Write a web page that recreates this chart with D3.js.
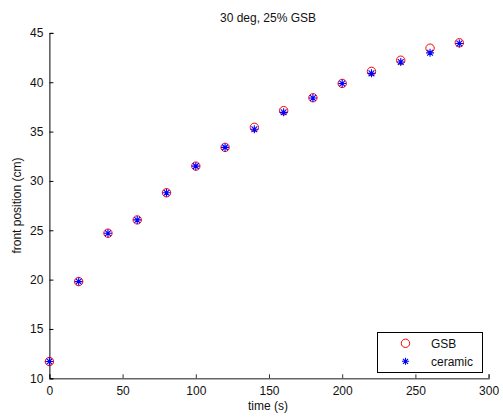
<!DOCTYPE html>
<html>
<head>
<meta charset="utf-8">
<script src="https://cdn.jsdelivr.net/npm/d3@7/dist/d3.min.js"></script>
<style>
html,body{margin:0;padding:0;background:#fff;}
svg text{font-family:"Liberation Sans",Arial,Helvetica,sans-serif;}
</style>
</head>
<body>
<script>
const times = [0,20,40,60,80,100,120,140,160,180,200,220,240,260,280];
const gsb = [11.7,19.8,24.7,26.05,28.8,31.5,33.4,35.43,37.12,38.43,39.88,41.1,42.23,43.45,44.0];
const ceramic = [11.7,19.8,24.7,26.05,28.8,31.5,33.4,35.23,36.95,38.4,39.88,40.9,42.05,42.98,43.92];
const xTicks = [0,50,100,150,200,250,300];
const yTicks = [10,15,20,25,30,35,40,45];
const title = "30 deg, 25% GSB";
const xLabel = "time (s)";
const yLabel = "front position (cm)";
const seriesNames = ["GSB","ceramic"];

const W = 503, H = 417;
const m = {left:49.4, right:W-488.6, top:32.9, bottom:H-378.3};
const svg = d3.select("body").append("svg").attr("width",W).attr("height",H);
const x = d3.scaleLinear().domain([0,300]).range([m.left, W-m.right]);
const y = d3.scaleLinear().domain([10,45]).range([H-m.bottom, m.top]);

// axes
const gx = svg.append("g").attr("transform",`translate(0,${y(10)})`)
  .call(d3.axisBottom(x).tickValues(xTicks).tickSize(-4).tickPadding(8).tickFormat(d3.format("d")));
gx.select(".domain").attr("stroke","#666").attr("stroke-width",1.4);
gx.selectAll(".tick line").attr("stroke","#333");
gx.selectAll("text").attr("font-size",12).attr("fill","#111");

const gy = svg.append("g").attr("transform",`translate(${x(0)},0)`)
  .call(d3.axisLeft(y).tickValues(yTicks).tickSize(-4).tickPadding(6).tickFormat(d3.format("d")));
gy.select(".domain").attr("stroke","#000").attr("stroke-width",1);
gy.selectAll(".tick line").attr("stroke","#000");
gy.selectAll("text").attr("font-size",12).attr("fill","#111");

// labels
svg.append("text").attr("x",268).attr("y",22).attr("text-anchor","middle").attr("font-size",12).attr("fill","#111").text(title);
svg.append("text").attr("x",268).attr("y",410).attr("text-anchor","middle").attr("font-size",12).attr("fill","#111").text(xLabel);
svg.append("text").attr("transform",`translate(21,${(y(10)+y(45))/2}) rotate(-90)`).attr("text-anchor","middle").attr("font-size",12).attr("fill","#111").text(yLabel);

function star(cx,cy,s){
  const d = s*0.72;
  return `M${cx-s},${cy}L${cx+s},${cy}M${cx},${cy-s}L${cx},${cy+s}`+
         `M${cx-d},${cy-d}L${cx+d},${cy+d}M${cx-d},${cy+d}L${cx+d},${cy-d}`;
}

// GSB circles
svg.append("g").selectAll("circle").data(times.map((t,i)=>[t,gsb[i]])).join("circle")
  .attr("cx",d=>x(d[0])).attr("cy",d=>y(d[1])).attr("r",4.2)
  .attr("fill","none").attr("stroke","#ff0000").attr("stroke-width",1);

// ceramic stars
svg.append("g").selectAll("path").data(times.map((t,i)=>[t,ceramic[i]])).join("path")
  .attr("d",d=>star(x(d[0]),y(d[1]),4))
  .attr("fill","none").attr("stroke","#0000ff").attr("stroke-width",1.1);

// legend
const lg = svg.append("g");
lg.append("rect").attr("x",377.5).attr("y",332.5).attr("width",105).attr("height",40)
  .attr("fill","#fff").attr("stroke","#000").attr("stroke-width",1);
lg.append("circle").attr("cx",405.5).attr("cy",343.3).attr("r",4.2).attr("fill","none").attr("stroke","#ff0000").attr("stroke-width",1);
lg.append("path").attr("d",star(405.5,361.3,3.5)).attr("fill","none").attr("stroke","#0000ff").attr("stroke-width",1.1);
lg.append("text").attr("x",431).attr("y",347.5).attr("font-size",12).attr("fill","#111").text(seriesNames[0]);
lg.append("text").attr("x",431).attr("y",365.5).attr("font-size",12).attr("fill","#111").text(seriesNames[1]);
</script>
</body>
</html>
